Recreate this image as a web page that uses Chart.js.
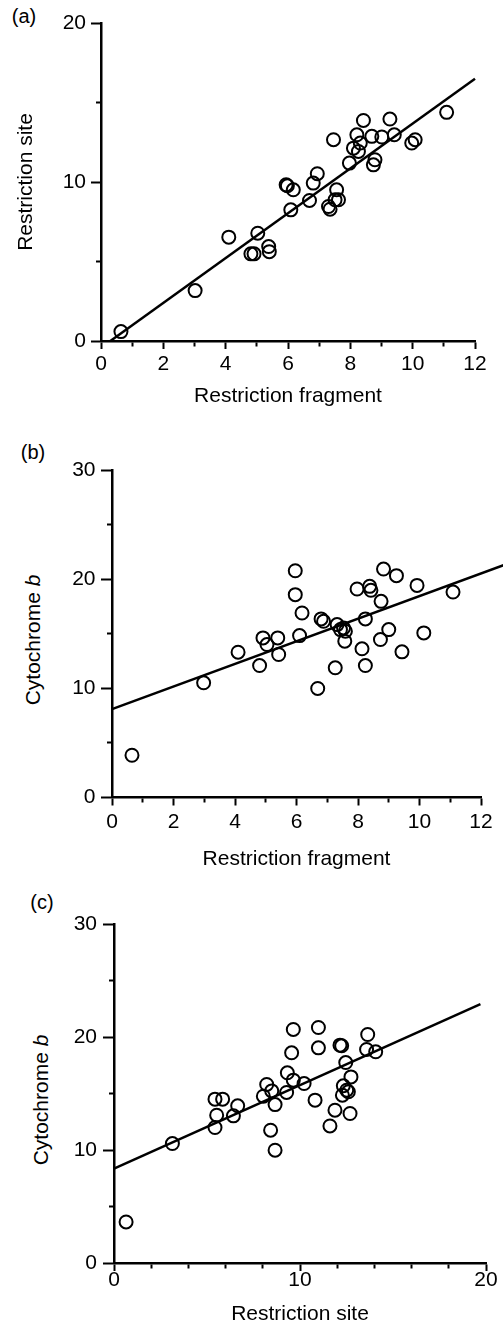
<!DOCTYPE html>
<html>
<head>
<meta charset="utf-8">
<script src="https://cdn.jsdelivr.net/npm/chart.js@4.4.1/dist/chart.umd.min.js"></script>
<style>
  body { margin: 0; background: #fff; width: 503px; height: 1332px; position: relative; overflow: hidden;
         font-family: "Liberation Sans", Arial, sans-serif; color: #000; }
  canvas { position: absolute; left: 0; }
  .tag { position: absolute; font-size: 20px; transform: translate(-50%, -50%); }
  .ytitle { position: absolute; font-size: 21px; white-space: nowrap; transform: translate(-50%, -50%) rotate(-90deg); }
</style>
</head>
<body>
<div class="tag" style="left:24px; top:16px">(a)</div>
<div class="tag" style="left:33px; top:452px">(b)</div>
<div class="tag" style="left:42px; top:902px">(c)</div>
<div class="ytitle" style="left:33px; top:640px">Cytochrome <i>b</i></div>
<div class="ytitle" style="left:41px; top:1100px">Cytochrome <i>b</i></div>

<canvas id="chartA" width="503" height="410" style="top:0px"></canvas>
<canvas id="chartB" width="503" height="462" style="top:410px"></canvas>
<canvas id="chartC" width="503" height="460" style="top:872px"></canvas>

<script>
// (a) restriction fragment vs restriction site
const fragA = [0.64, 3.02, 4.10, 5.03, 4.81, 4.91, 5.38, 5.40, 5.94, 5.98, 6.17, 6.09, 6.69, 6.81, 6.94, 7.30, 7.35, 7.51,
               7.56, 7.62, 7.46, 7.97, 8.10, 8.21, 8.32, 8.26, 8.42, 8.69, 8.74, 8.79, 9.01, 9.27, 9.41, 9.97, 10.08, 11.09];
const siteA = [0.59, 3.17, 6.53, 6.78, 5.48, 5.48, 5.94, 5.62, 9.82, 9.76, 9.51, 8.25, 8.84, 9.93, 10.52, 8.46, 8.29, 8.88,
               9.51, 8.88, 12.66, 11.19, 12.13, 12.97, 12.45, 11.92, 13.87, 12.87, 11.08, 11.40, 12.83, 13.96, 12.97, 12.45, 12.66, 14.38];
const fitAx = [0.3, 12];
const fitAy = [0, 16.5];

// (b) restriction fragment vs cytochrome b
const fragB = [0.65, 2.98, 4.10, 4.80, 4.91, 5.04, 5.39, 5.42, 5.96, 5.96, 6.18, 6.10, 6.69, 6.80, 6.88, 7.26, 7.32, 7.43,
               7.53, 7.59, 7.57, 7.97, 8.13, 8.24, 8.24, 8.38, 8.42, 8.75, 8.73, 8.83, 9.00, 9.25, 9.43, 9.92, 10.14, 11.09];
const cytB  = [3.87, 10.51, 13.31, 12.09, 14.62, 14.01, 14.62, 13.10, 20.77, 18.58, 16.90, 14.83, 9.99, 16.36, 16.14, 11.88, 15.84, 15.38,
               15.53, 15.23, 14.32, 19.10, 13.62, 16.36, 12.09, 19.34, 18.98, 17.97, 14.47, 20.93, 15.38, 20.32, 13.34, 19.43, 15.08, 18.82];
const fitBx = [0, 12.75];
const fitBy = [8.1, 21.3];

// (c) restriction site vs cytochrome b
const siteC = [0.65, 3.14, 5.43, 5.84, 5.52, 5.43, 6.42, 6.65, 8.21, 8.03, 8.48, 8.66, 8.42, 8.66, 9.64, 9.55, 9.32, 9.28, 9.64,
               10.22, 10.81, 10.99, 10.99, 11.61, 11.88, 12.15, 12.24, 12.46, 12.33, 12.28, 12.51, 12.60, 12.74, 12.69, 13.64, 13.58, 14.07];
const cytC  = [3.63, 10.57, 14.50, 14.50, 13.08, 11.99, 13.02, 13.91, 15.80, 14.76, 15.23, 14.02, 11.75, 9.98, 20.67, 18.60, 16.83, 15.09, 16.18,
               15.88, 14.41, 20.84, 19.04, 12.13, 13.52, 19.28, 19.22, 17.74, 15.68, 14.85, 15.29, 15.15, 16.47, 13.23, 20.22, 18.90, 18.69];
const fitCx = [0, 19.7];
const fitCy = [8.35, 22.9];

Chart.defaults.font.family = '"Liberation Sans", Arial, sans-serif';
Chart.defaults.color = '#000';

function toPoints(xs, ys) {
    return xs.map((x, i) => ({ x: x, y: ys[i] }));
}

function makePanel(id, p) {
    const yTl = p.yTick;
    new Chart(document.getElementById(id), {
        type: 'scatter',
        data: {
            datasets: [{
                data: toPoints(p.xs, p.ys),
                pointRadius: 6.5,
                pointHoverRadius: 6.5,
                pointBorderWidth: 2,
                pointBorderColor: '#000',
                pointBackgroundColor: 'rgba(0,0,0,0)'
            }, {
                data: toPoints(p.fitX, p.fitY),
                showLine: true,
                pointRadius: 0,
                borderColor: '#000',
                borderWidth: 2.5,
                clip: false
            }]
        },
        options: {
            responsive: false,
            animation: false,
            devicePixelRatio: 1,
            events: [],
            layout: { padding: p.pad },
            plugins: { legend: { display: false }, tooltip: { enabled: false } },
            scales: {
                x: {
                    type: 'linear',
                    min: 0, max: p.xMax,
                    ticks: {
                        stepSize: p.xStep, autoSkip: false, maxRotation: 0, padding: p.xPad, color: '#000',
                        font: { size: 21, lineHeight: 1 },
                        callback: v => (v % p.xEvery === 0 ? v : '')
                    },
                    grid: {
                        drawOnChartArea: false, tickLength: 8, tickColor: '#000', tickWidth: 2,
                        tickBorderDash: ctx => (ctx.tick && ctx.tick.value % p.xEvery !== 0 ? [4, 100] : [])
                    },
                    border: { display: true, color: '#000', width: 2.5 },
                    title: { display: true, text: p.xTitle, color: '#000', font: { size: 21 }, padding: { top: 0, bottom: p.xTitlePad } },
                    afterFit: s => { s.height = p.xHeight; }
                },
                y: {
                    type: 'linear',
                    min: 0, max: p.yMax,
                    ticks: {
                        stepSize: 5, autoSkip: false, padding: p.yPad, color: '#000',
                        font: { size: 21, lineHeight: 1 },
                        callback: v => (v % 10 === 0 ? v : '')
                    },
                    grid: {
                        drawOnChartArea: false, tickLength: yTl, tickColor: '#000', tickWidth: 2,
                        tickBorderDash: ctx => (ctx.tick && ctx.tick.value % 10 !== 0 ? [0, yTl - 5, 5, 100] : [])
                    },
                    border: { display: true, color: '#000', width: 2.5 },
                    title: { display: !!p.yTitle, text: p.yTitle || '', color: '#000', font: { size: 21 }, padding: { top: p.yTitlePad, bottom: 0 } },
                    afterFit: s => { s.width = p.yWidth; }
                }
            }
        }
    });
}

makePanel('chartA', {
    xs: fragA, ys: siteA, fitX: fitAx, fitY: fitAy,
    xMax: 12, xStep: 1, xEvery: 2, yMax: 20,
    pad: { left: 0, top: 23, right: 28, bottom: 0 },
    xHeight: 69, yWidth: 101, xPad: 5, yPad: 5, yTick: 10,
    xTitle: 'Restriction fragment', xTitlePad: 0.7,
    yTitle: 'Restriction site', yTitlePad: 13.4
});

makePanel('chartB', {
    xs: fragB, ys: cytB, fitX: fitBx, fitY: fitBy,
    xMax: 12, xStep: 1, xEvery: 2, yMax: 30,
    pad: { left: 0, top: 60, right: 22, bottom: 0 },
    xHeight: 74.5, yWidth: 112, xPad: 6.5, yPad: 5.5, yTick: 11,
    xTitle: 'Restriction fragment', xTitlePad: 0.4
});

makePanel('chartC', {
    xs: siteC, ys: cytC, fitX: fitCx, fitY: fitCy,
    xMax: 20, xStep: 2, xEvery: 10, yMax: 30,
    pad: { left: 0, top: 52, right: 17, bottom: 0 },
    xHeight: 69, yWidth: 114, xPad: -1.5, yPad: 6, yTick: 11,
    xTitle: 'Restriction site', xTitlePad: 5.4
});
</script>
</body>
</html>
